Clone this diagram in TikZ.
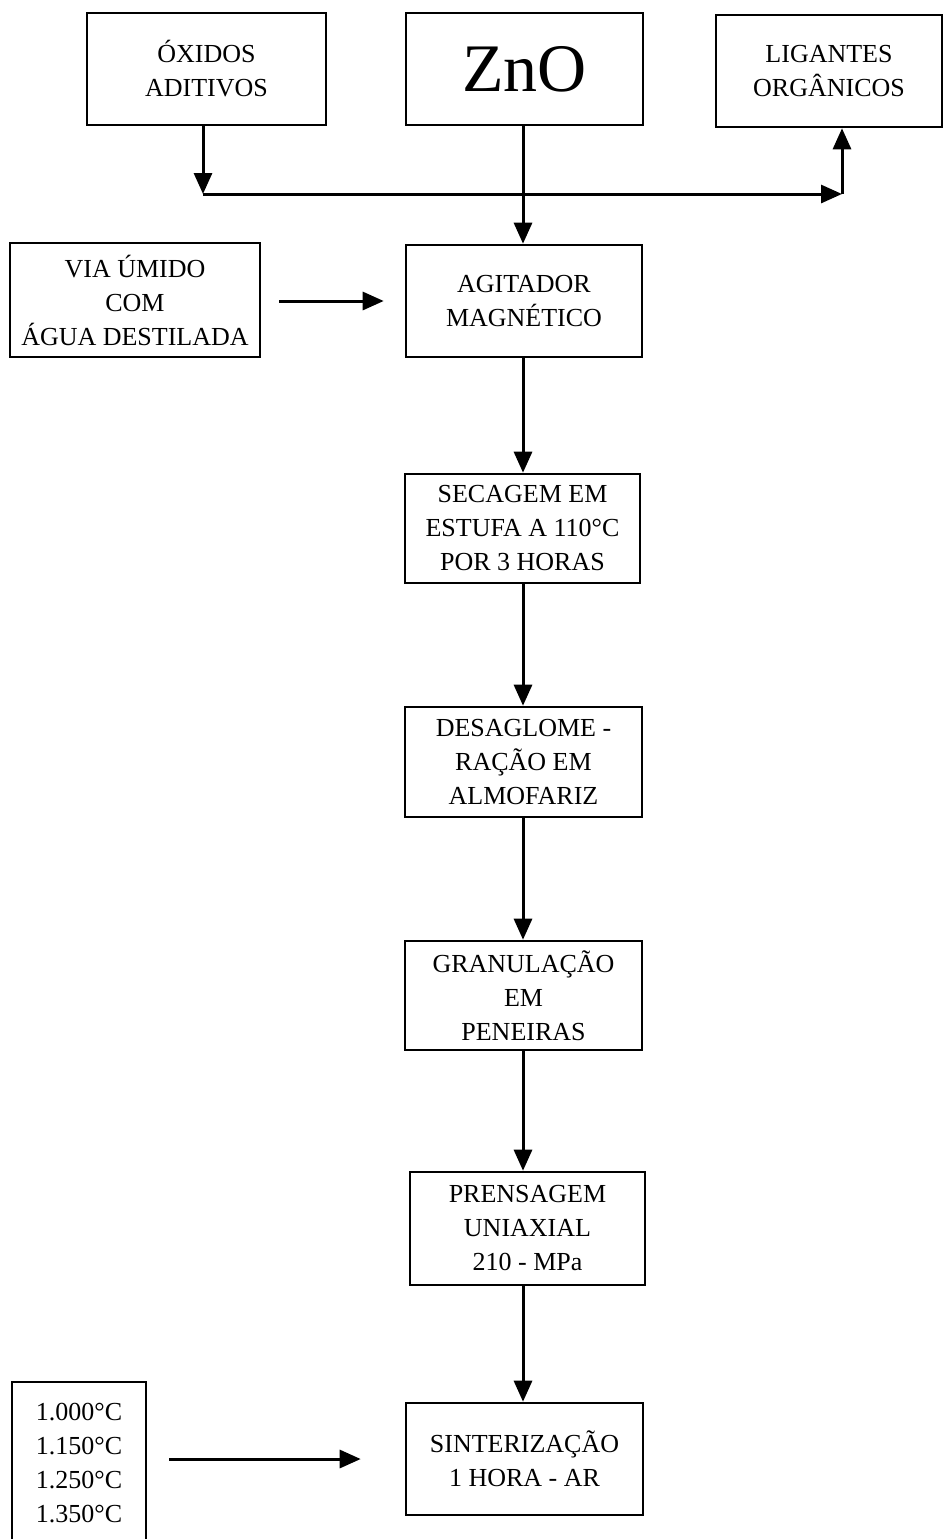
\documentclass[tikz,border=0pt]{standalone}
\usepackage{fontspec}
\setmainfont{Liberation Serif}
\usetikzlibrary{arrows.meta}
\begin{document}
\begin{tikzpicture}[x=1pt,y=-1pt,
  box/.style={draw, line width=2.6pt, inner sep=0pt, align=center,
              font=\fontsize{26}{34}\selectfont},
  arr/.style={line width=3pt, -{Triangle[length=21pt,width=18pt]}},
  plain/.style={line width=3pt}]
\useasboundingbox (0,0) rectangle (943,1539);

% top row
\node[box, minimum width=239pt, minimum height=112pt] (ox) at (206.5,69) {ÓXIDOS\\ADITIVOS};
\node[box, minimum width=237pt, minimum height=112pt, font=\fontsize{68}{68}\selectfont] (zno) at (524.5,69) {ZnO};
\node[box, minimum width=226pt, minimum height=112pt] (lig) at (829,71) {LIGANTES\\ORGÂNICOS};

% side inputs
\node[box, minimum width=250pt, minimum height=114pt] (via) at (135,300) {VIA ÚMIDO\\COM\\ÁGUA DESTILADA};
\node[box, minimum width=134pt, minimum height=163pt] (temp) at (79,1463.5) {1.000°C\\1.150°C\\1.250°C\\1.350°C};

% main chain
\node[box, minimum width=236pt, minimum height=112pt] (agit) at (524,301) {AGITADOR\\MAGNÉTICO};
\node[box, minimum width=235pt, minimum height=109pt] (sec) at (522.5,528.5) {SECAGEM EM\\ESTUFA A 110°C\\POR 3 HORAS};
\node[box, minimum width=237pt, minimum height=110pt] (des) at (523.5,762) {DESAGLOME -\\RAÇÃO EM\\ALMOFARIZ};
\node[box, minimum width=237pt, minimum height=109pt] (gra) at (523.5,995.5) {GRANULAÇÃO\\EM\\PENEIRAS};
\node[box, minimum width=235pt, minimum height=113pt] (pre) at (527.5,1228.5) {PRENSAGEM\\UNIAXIAL\\210 - MPa};
\node[box, minimum width=237pt, minimum height=112pt] (sin) at (524.5,1459) {SINTERIZAÇÃO\\1 HORA - AR};

% helper coordinates
\coordinate (spine) at (523,0);
\coordinate (j1) at (203,194);
\coordinate (j2) at (842,194);

% top connectors
\draw[arr] (ox.south -| j1) -- (j1);
\draw[arr] (j1) -- (j2);
\draw[arr] (j2) -- (lig.south -| j2);
\draw[arr] (zno.south -| spine) -- (agit.north -| spine);

% chain connectors
\draw[arr] (agit.south -| spine) -- (sec.north -| spine);
\draw[arr] (sec.south -| spine) -- (des.north -| spine);
\draw[arr] (des.south -| spine) -- (gra.north -| spine);
\draw[arr] (gra.south -| spine) -- (pre.north -| spine);
\draw[arr] (pre.south -| spine) -- (sin.north -| spine);

% side arrows
\draw[arr, shorten <=18pt, shorten >=21pt] (via.east |- agit.west) -- (agit.west);
\draw[arr, shorten <=22pt, shorten >=44pt] (temp.east |- sin.west) -- (sin.west);
\end{tikzpicture}
\end{document}
